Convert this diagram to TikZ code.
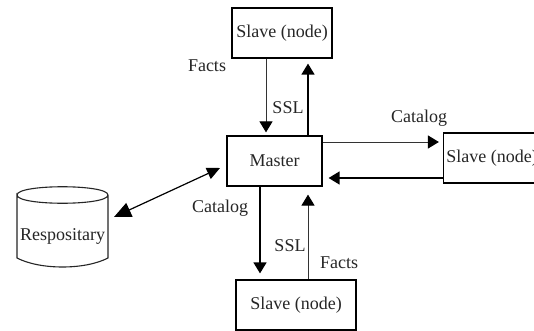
\documentclass[tikz,border=0pt]{standalone}
\usepackage{fontspec}
\setmainfont{Liberation Serif}
\usetikzlibrary{arrows.meta,calc}
\tikzset{
  box/.style={draw=black,line width=1.2pt,minimum height=50pt,inner sep=0pt,font=\fontsize{18}{20}\selectfont,text=black!85},
  lab/.style={inner sep=0pt,font=\fontsize{18}{20}\selectfont,text=black!85},
  thinarrow/.style={draw=black!80,line width=1pt,-{Triangle[length=11pt,width=13pt,color=black]}},
  thickarrow/.style={draw=black,line width=1.4pt,-{Triangle[length=11pt,width=13pt]}},
  bothends/.style={draw=black,line width=1.2pt,{Triangle[length=17pt,width=15pt]}-{Triangle[length=13pt,width=12pt]}},
}
\begin{document}
\begin{tikzpicture}[x=1pt,y=-1pt]
\useasboundingbox (0,0) rectangle (534,331);
\clip (0,0) rectangle (534,331);
\fill[white] (0,0) rectangle (534,331);
\node[box,minimum width=100pt] (top) at (282,33) {Slave (node)};
\node[box,minimum width=95pt] (master) at (274.5,161) {Master};
\node[box,minimum width=97pt] (right) at (492,158) {Slave (node)};
\node[box,minimum width=120pt] (bottom) at (296,305) {Slave (node)};
% repository cylinder
\draw[line width=1.1pt,draw=black!85] (17,195) .. controls (17,184) and (108,184) .. (108,195)
  .. controls (108,206) and (17,206) .. (17,195) -- (17,258)
  .. controls (40,270) and (85,270) .. (108,258) -- (108,195);
\node[lab] (rep) at (62.5,236) {Respositary};
\coordinate (repend) at (114,217);
\coordinate (masterend) at (220,168);
\coordinate (xa) at (266,0);
\coordinate (xb) at (308,0);
\coordinate (xc) at (260,0);
\coordinate (ya) at (0,142);
\coordinate (yb) at (0,178);
% connectors
\draw[thinarrow,shorten >=3pt] (top.south -| xa) -- (master.north -| xa);
\draw[thickarrow] (master.north -| xb) -- ($(top.south -| xb)+(0,5)$);
\draw[thinarrow] (master.east |- ya) -- ($(right.west |- ya)+(-4,0)$);
\draw[thickarrow] (right.west |- yb) -- ($(master.east |- yb)+(6,0)$);
\draw[thickarrow] (master.south -| xc) -- ($(bottom.north -| xc)+(0,-6)$);
\draw[thinarrow] (bottom.north -| xb) -- ($(master.south -| xb)+(0,8)$);
\draw[bothends] (repend) -- (masterend);
% labels
\node[lab] (l1) at (207,66) {Facts};
\node[lab] (l2) at (288,108) {SSL};
\node[lab] (l3) at (419,118) {Catalog};
\node[lab] (l4) at (220,208) {Catalog};
\node[lab] (l5) at (290,246) {SSL};
\node[lab] (l6) at (339,263) {Facts};
\end{tikzpicture}
\end{document}
